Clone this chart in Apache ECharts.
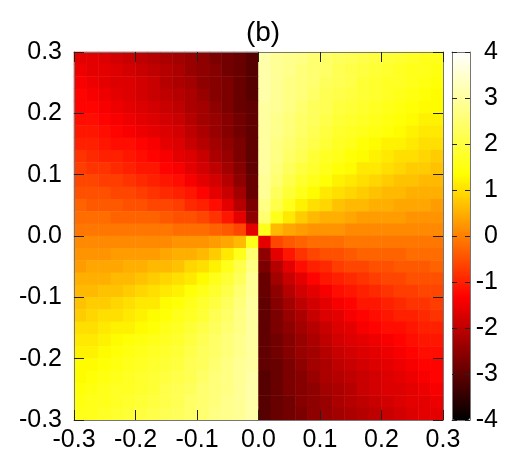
<!DOCTYPE html>
<html>
<head>
<meta charset="utf-8">
<script src="https://cdn.jsdelivr.net/npm/echarts@6/dist/echarts.min.js"></script>
<style>
  html, body { margin: 0; padding: 0; background: #fff; }
  #chart { width: 509px; height: 461px; }
</style>
</head>
<body>
<div id="chart"></div>
<script>
// cell centres along x and y (same for both axes)
const cellCenters = ['-0.29', '-0.27', '-0.25', '-0.23', '-0.21', '-0.19', '-0.17', '-0.15', '-0.13', '-0.11',
  '-0.09', '-0.07', '-0.05', '-0.03', '-0.01', '0.01', '0.03', '0.05', '0.07', '0.09',
  '0.11', '0.13', '0.15', '0.17', '0.19', '0.21', '0.23', '0.25', '0.27', '0.29']

// phase values, rows from y = 0.29 (top) down to y = -0.29, columns from x = -0.29 to 0.29
const phase = [
  [-1.6, -1.6, -1.7, -1.8, -1.9, -2.0, -2.1, -2.2, -2.3, -2.4, -2.5, -2.7, -2.8, -2.9, -3.1, 3.1, 2.9, 2.8, 2.7, 2.5, 2.4, 2.3, 2.2, 2.1, 2.0, 1.9, 1.8, 1.7, 1.6, 1.6],
  [-1.5, -1.6, -1.6, -1.7, -1.8, -1.9, -2.0, -2.1, -2.2, -2.4, -2.5, -2.6, -2.8, -2.9, -3.1, 3.1, 2.9, 2.8, 2.6, 2.5, 2.4, 2.2, 2.1, 2.0, 1.9, 1.8, 1.7, 1.6, 1.6, 1.5],
  [-1.4, -1.5, -1.6, -1.7, -1.7, -1.8, -1.9, -2.1, -2.2, -2.3, -2.5, -2.6, -2.7, -2.9, -3.1, 3.1, 2.9, 2.7, 2.6, 2.5, 2.3, 2.2, 2.1, 1.9, 1.8, 1.7, 1.7, 1.6, 1.5, 1.4],
  [-1.3, -1.4, -1.5, -1.6, -1.7, -1.8, -1.9, -2.0, -2.1, -2.2, -2.4, -2.6, -2.7, -2.9, -3.1, 3.1, 2.9, 2.7, 2.6, 2.4, 2.2, 2.1, 2.0, 1.9, 1.8, 1.7, 1.6, 1.5, 1.4, 1.3],
  [-1.3, -1.3, -1.4, -1.5, -1.6, -1.7, -1.8, -1.9, -2.0, -2.2, -2.3, -2.5, -2.7, -2.9, -3.0, 3.0, 2.9, 2.7, 2.5, 2.3, 2.2, 2.0, 1.9, 1.8, 1.7, 1.6, 1.5, 1.4, 1.3, 1.3],
  [-1.2, -1.2, -1.3, -1.4, -1.5, -1.6, -1.7, -1.8, -1.9, -2.1, -2.3, -2.4, -2.6, -2.8, -3.0, 3.0, 2.8, 2.6, 2.4, 2.3, 2.1, 1.9, 1.8, 1.7, 1.6, 1.5, 1.4, 1.3, 1.2, 1.2],
  [-1.1, -1.1, -1.2, -1.3, -1.4, -1.5, -1.6, -1.7, -1.8, -2.0, -2.2, -2.4, -2.6, -2.8, -3.0, 3.0, 2.8, 2.6, 2.4, 2.2, 2.0, 1.8, 1.7, 1.6, 1.5, 1.4, 1.3, 1.2, 1.1, 1.1],
  [-1.0, -1.0, -1.1, -1.2, -1.2, -1.3, -1.4, -1.6, -1.7, -1.9, -2.1, -2.3, -2.5, -2.7, -3.0, 3.0, 2.7, 2.5, 2.3, 2.1, 1.9, 1.7, 1.6, 1.4, 1.3, 1.2, 1.2, 1.1, 1.0, 1.0],
  [-0.8, -0.9, -1.0, -1.0, -1.1, -1.2, -1.3, -1.4, -1.6, -1.7, -1.9, -2.2, -2.4, -2.7, -3.0, 3.0, 2.7, 2.4, 2.2, 1.9, 1.7, 1.6, 1.4, 1.3, 1.2, 1.1, 1.0, 1.0, 0.9, 0.8],
  [-0.7, -0.8, -0.8, -0.9, -1.0, -1.1, -1.1, -1.3, -1.4, -1.6, -1.8, -2.0, -2.3, -2.6, -3.0, 3.0, 2.6, 2.3, 2.0, 1.8, 1.6, 1.4, 1.3, 1.1, 1.1, 1.0, 0.9, 0.8, 0.8, 0.7],
  [-0.6, -0.6, -0.7, -0.7, -0.8, -0.9, -1.0, -1.1, -1.2, -1.4, -1.6, -1.8, -2.1, -2.5, -2.9, 2.9, 2.5, 2.1, 1.8, 1.6, 1.4, 1.2, 1.1, 1.0, 0.9, 0.8, 0.7, 0.7, 0.6, 0.6],
  [-0.5, -0.5, -0.5, -0.6, -0.6, -0.7, -0.8, -0.9, -1.0, -1.1, -1.3, -1.6, -1.9, -2.3, -2.9, 2.9, 2.3, 1.9, 1.6, 1.3, 1.1, 1.0, 0.9, 0.8, 0.7, 0.6, 0.6, 0.5, 0.5, 0.5],
  [-0.3, -0.4, -0.4, -0.4, -0.5, -0.5, -0.6, -0.6, -0.7, -0.9, -1.0, -1.2, -1.6, -2.1, -2.7, 2.7, 2.1, 1.6, 1.2, 1.0, 0.9, 0.7, 0.6, 0.6, 0.5, 0.5, 0.4, 0.4, 0.4, 0.3],
  [-0.2, -0.2, -0.2, -0.3, -0.3, -0.3, -0.3, -0.4, -0.5, -0.5, -0.6, -0.8, -1.1, -1.6, -2.5, 2.5, 1.6, 1.1, 0.8, 0.6, 0.5, 0.5, 0.4, 0.3, 0.3, 0.3, 0.3, 0.2, 0.2, 0.2],
  [-0.1, -0.1, -0.1, -0.1, -0.1, -0.1, -0.1, -0.1, -0.2, -0.2, -0.2, -0.3, -0.4, -0.6, -1.6, 1.6, 0.6, 0.4, 0.3, 0.2, 0.2, 0.2, 0.1, 0.1, 0.1, 0.1, 0.1, 0.1, 0.1, 0.1],
  [0.1, 0.1, 0.1, 0.1, 0.1, 0.1, 0.1, 0.1, 0.2, 0.2, 0.2, 0.3, 0.4, 0.6, 1.6, -1.6, -0.6, -0.4, -0.3, -0.2, -0.2, -0.2, -0.1, -0.1, -0.1, -0.1, -0.1, -0.1, -0.1, -0.1],
  [0.2, 0.2, 0.2, 0.3, 0.3, 0.3, 0.3, 0.4, 0.5, 0.5, 0.6, 0.8, 1.1, 1.6, 2.5, -2.5, -1.6, -1.1, -0.8, -0.6, -0.5, -0.5, -0.4, -0.3, -0.3, -0.3, -0.3, -0.2, -0.2, -0.2],
  [0.3, 0.4, 0.4, 0.4, 0.5, 0.5, 0.6, 0.6, 0.7, 0.9, 1.0, 1.2, 1.6, 2.1, 2.7, -2.7, -2.1, -1.6, -1.2, -1.0, -0.9, -0.7, -0.6, -0.6, -0.5, -0.5, -0.4, -0.4, -0.4, -0.3],
  [0.5, 0.5, 0.5, 0.6, 0.6, 0.7, 0.8, 0.9, 1.0, 1.1, 1.3, 1.6, 1.9, 2.3, 2.9, -2.9, -2.3, -1.9, -1.6, -1.3, -1.1, -1.0, -0.9, -0.8, -0.7, -0.6, -0.6, -0.5, -0.5, -0.5],
  [0.6, 0.6, 0.7, 0.7, 0.8, 0.9, 1.0, 1.1, 1.2, 1.4, 1.6, 1.8, 2.1, 2.5, 2.9, -2.9, -2.5, -2.1, -1.8, -1.6, -1.4, -1.2, -1.1, -1.0, -0.9, -0.8, -0.7, -0.7, -0.6, -0.6],
  [0.7, 0.8, 0.8, 0.9, 1.0, 1.1, 1.1, 1.3, 1.4, 1.6, 1.8, 2.0, 2.3, 2.6, 3.0, -3.0, -2.6, -2.3, -2.0, -1.8, -1.6, -1.4, -1.3, -1.1, -1.1, -1.0, -0.9, -0.8, -0.8, -0.7],
  [0.8, 0.9, 1.0, 1.0, 1.1, 1.2, 1.3, 1.4, 1.6, 1.7, 1.9, 2.2, 2.4, 2.7, 3.0, -3.0, -2.7, -2.4, -2.2, -1.9, -1.7, -1.6, -1.4, -1.3, -1.2, -1.1, -1.0, -1.0, -0.9, -0.8],
  [1.0, 1.0, 1.1, 1.2, 1.2, 1.3, 1.4, 1.6, 1.7, 1.9, 2.1, 2.3, 2.5, 2.7, 3.0, -3.0, -2.7, -2.5, -2.3, -2.1, -1.9, -1.7, -1.6, -1.4, -1.3, -1.2, -1.2, -1.1, -1.0, -1.0],
  [1.1, 1.1, 1.2, 1.3, 1.4, 1.5, 1.6, 1.7, 1.8, 2.0, 2.2, 2.4, 2.6, 2.8, 3.0, -3.0, -2.8, -2.6, -2.4, -2.2, -2.0, -1.8, -1.7, -1.6, -1.5, -1.4, -1.3, -1.2, -1.1, -1.1],
  [1.2, 1.2, 1.3, 1.4, 1.5, 1.6, 1.7, 1.8, 1.9, 2.1, 2.3, 2.4, 2.6, 2.8, 3.0, -3.0, -2.8, -2.6, -2.4, -2.3, -2.1, -1.9, -1.8, -1.7, -1.6, -1.5, -1.4, -1.3, -1.2, -1.2],
  [1.3, 1.3, 1.4, 1.5, 1.6, 1.7, 1.8, 1.9, 2.0, 2.2, 2.3, 2.5, 2.7, 2.9, 3.0, -3.0, -2.9, -2.7, -2.5, -2.3, -2.2, -2.0, -1.9, -1.8, -1.7, -1.6, -1.5, -1.4, -1.3, -1.3],
  [1.3, 1.4, 1.5, 1.6, 1.7, 1.8, 1.9, 2.0, 2.1, 2.2, 2.4, 2.6, 2.7, 2.9, 3.1, -3.1, -2.9, -2.7, -2.6, -2.4, -2.2, -2.1, -2.0, -1.9, -1.8, -1.7, -1.6, -1.5, -1.4, -1.3],
  [1.4, 1.5, 1.6, 1.7, 1.7, 1.8, 1.9, 2.1, 2.2, 2.3, 2.5, 2.6, 2.7, 2.9, 3.1, -3.1, -2.9, -2.7, -2.6, -2.5, -2.3, -2.2, -2.1, -1.9, -1.8, -1.7, -1.7, -1.6, -1.5, -1.4],
  [1.5, 1.6, 1.6, 1.7, 1.8, 1.9, 2.0, 2.1, 2.2, 2.4, 2.5, 2.6, 2.8, 2.9, 3.1, -3.1, -2.9, -2.8, -2.6, -2.5, -2.4, -2.2, -2.1, -2.0, -1.9, -1.8, -1.7, -1.6, -1.6, -1.5],
  [1.6, 1.6, 1.7, 1.8, 1.9, 2.0, 2.1, 2.2, 2.3, 2.4, 2.5, 2.7, 2.8, 2.9, 3.1, -3.1, -2.9, -2.8, -2.7, -2.5, -2.4, -2.3, -2.2, -2.1, -2.0, -1.9, -1.8, -1.7, -1.6, -1.6]
]

const colorStops = ['#000000', '#ff0000', '#ffff00', '#ffffff']

const cells = []
phase.forEach((row, r) => {
  row.forEach((v, c) => {
    cells.push([c, phase.length - 1 - r, v])
  })
})

const font = 'Liberation Sans, Arial, Helvetica, sans-serif'
const label = { color: '#000', fontSize: 25, fontFamily: font }
const frame = { show: true, onZero: false, lineStyle: { color: '#777', width: 1 } }
const tickIn = (len) => ({ show: true, inside: true, length: len, lineStyle: { color: '#222', width: 1 } })
const fmt1 = v => v.toFixed(1)

const chart = echarts.init(document.getElementById('chart'))
chart.setOption({
  animation: false,
  title: {
    text: '(b)',
    left: 258,
    top: 14,
    textAlign: 'center',
    textStyle: { fontSize: 28, fontWeight: 'normal', color: '#000', fontFamily: font }
  },
  grid: [
    { left: 74, top: 52, width: 369, height: 368 },
    { left: 452, top: 52, width: 18, height: 368 }
  ],
  xAxis: [
    { type: 'category', gridIndex: 0, data: cellCenters, show: false },
    {
      type: 'value', gridIndex: 0, min: -0.3, max: 0.3, interval: 0.1, position: 'bottom', z: 5,
      axisLine: frame, axisTick: tickIn(10), splitLine: { show: false },
      axisLabel: Object.assign({ margin: 8, formatter: fmt1 }, label)
    },
    {
      type: 'value', gridIndex: 0, min: -0.3, max: 0.3, interval: 0.1, position: 'top', z: 5,
      axisLine: frame, axisTick: tickIn(10), splitLine: { show: false }, axisLabel: { show: false }
    },
    {
      type: 'value', gridIndex: 1, min: 0, max: 1, position: 'bottom', z: 5,
      axisLine: frame, axisTick: { show: false }, splitLine: { show: false }, axisLabel: { show: false }
    },
    {
      type: 'value', gridIndex: 1, min: 0, max: 1, position: 'top', z: 5,
      axisLine: frame, axisTick: { show: false }, splitLine: { show: false }, axisLabel: { show: false }
    }
  ],
  yAxis: [
    { type: 'category', gridIndex: 0, data: cellCenters, show: false },
    {
      type: 'value', gridIndex: 0, min: -0.3, max: 0.3, interval: 0.1, position: 'left', z: 5,
      axisLine: frame, axisTick: tickIn(10), splitLine: { show: false },
      axisLabel: Object.assign({ margin: 12, formatter: fmt1 }, label)
    },
    {
      type: 'value', gridIndex: 0, min: -0.3, max: 0.3, interval: 0.1, position: 'right', z: 5,
      axisLine: frame, axisTick: tickIn(10), splitLine: { show: false }, axisLabel: { show: false }
    },
    {
      type: 'value', gridIndex: 1, min: -4, max: 4, interval: 1, position: 'right', z: 5,
      axisLine: frame, axisTick: tickIn(5), splitLine: { show: false },
      axisLabel: Object.assign({ margin: 28, align: 'right' }, label)
    },
    {
      type: 'value', gridIndex: 1, min: -4, max: 4, interval: 1, position: 'left', z: 5,
      axisLine: frame, axisTick: tickIn(5), splitLine: { show: false }, axisLabel: { show: false }
    }
  ],
  visualMap: {
    type: 'continuous',
    min: -4,
    max: 4,
    seriesIndex: 0,
    calculable: false,
    hoverLink: false,
    left: 452,
    top: 52,
    padding: 0,
    itemWidth: 18,
    itemHeight: 368,
    inRange: { color: colorStops }
  },
  series: [
    {
      type: 'heatmap',
      xAxisIndex: 0,
      yAxisIndex: 0,
      data: cells,
      emphasis: { disabled: true }
    }
  ]
})
</script>
</body>
</html>
